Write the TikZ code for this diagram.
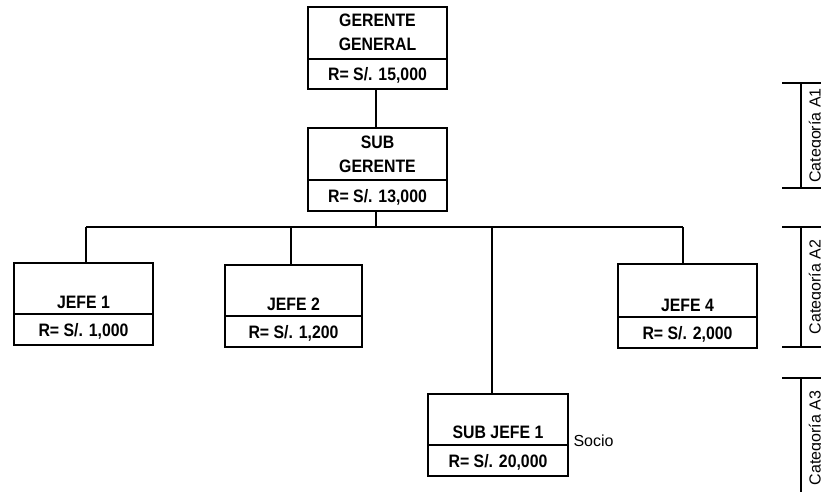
\documentclass[tikz,border=0pt]{standalone}
\usepackage{fontspec}
\setmainfont{Liberation Sans}
\newfontfamily\condfont{Liberation Sans}[FakeStretch=0.88]
\begin{document}
\begin{tikzpicture}[x=1pt,y=-1pt,
  line width=1.1pt,
  box/.style={draw, rectangle, inner sep=0pt, line width=1.1pt},
  lbl/.style={font=\condfont\fontsize{18}{21}\selectfont\bfseries, anchor=base, inner sep=0pt},
  cat/.style={font=\fontsize{16}{19}\selectfont, anchor=base, rotate=90, inner sep=0pt},
  plain/.style={font=\fontsize{16}{19}\selectfont, anchor=base west, inner sep=0pt},
  conn/.style={line width=1.1pt}]
\useasboundingbox (0,0) rectangle (821,492);
\clip (0,0) rectangle (821,492);

% boxes
\node[box, minimum width=139pt, minimum height=82pt] (gg) at (377.5,48) {};
\node[box, minimum width=139pt, minimum height=83pt] (sg) at (377.5,169.5) {};
\node[box, minimum width=139pt, minimum height=82pt] (j1) at (83.5,304) {};
\node[box, minimum width=137pt, minimum height=82pt] (j2) at (293.5,306) {};
\node[box, minimum width=139pt, minimum height=84pt] (j4) at (687.5,306) {};
\node[box, minimum width=140pt, minimum height=82pt] (sj) at (498,435) {};

% dividers
\draw (gg.west |- 0,59) -- (gg.east |- 0,59);
\draw (sg.west |- 0,180) -- (sg.east |- 0,180);
\draw (j1.west |- 0,314) -- (j1.east |- 0,314);
\draw (j2.west |- 0,316) -- (j2.east |- 0,316);
\draw (j4.west |- 0,317) -- (j4.east |- 0,317);
\draw (sj.west |- 0,445) -- (sj.east |- 0,445);

% texts
\node[lbl] (gg1) at (377.5,27) {GERENTE};
\node[lbl] (gg2) at (377.5,51) {GENERAL};
\node[lbl] (gg3) at (377.5,81) {R= S/. 15,000};
\node[lbl] (sg1) at (377.5,148) {SUB};
\node[lbl] (sg2) at (377.5,172) {GERENTE};
\node[lbl] (sg3) at (377.5,202) {R= S/. 13,000};
\node[lbl] (j1a) at (83.5,308) {JEFE 1};
\node[lbl] (j1b) at (83.5,336) {R= S/. 1,000};
\node[lbl] (j2a) at (293.5,310) {JEFE 2};
\node[lbl] (j2b) at (293.5,338) {R= S/. 1,200};
\node[lbl] (j4a) at (687.5,311) {JEFE 4};
\node[lbl] (j4b) at (687.5,339) {R= S/. 2,000};
\node[lbl] (sja) at (498,438) {SUB JEFE 1};
\node[lbl] (sjb) at (498,467) {R= S/. 20,000};
\node[plain] (socio) at (573,446) {Socio};

% connectors
\coordinate (bus) at (376,227);
\coordinate (b1) at (86,227);
\coordinate (b2) at (291,227);
\coordinate (b3) at (492,227);
\coordinate (b4) at (683,227);
\draw[conn] (gg.south -| bus) -- (sg.north -| bus);
\draw[conn] (sg.south -| bus) -- (bus);
\draw[conn] (b1) -- (b4);
\draw[conn] (b1) -- (b1 |- j1.north);
\draw[conn] (b2) -- (b2 |- j2.north);
\draw[conn] (b3) -- (b3 |- sj.north);
\draw[conn] (b4) -- (b4 |- j4.north);

% categories
\draw[conn] (782,83) -- (821,83);
\draw[conn] (801,83) -- (801,188);
\draw[conn] (782,188) -- (821,188);
\node[cat] (c1) at (820.5,135.5) {Categoría A1};
\draw[conn] (782,227) -- (821,227);
\draw[conn] (801,227) -- (801,347);
\draw[conn] (782,347) -- (821,347);
\node[cat] (c2) at (820.5,287) {Categoría A2};
\draw[conn] (782,378) -- (821,378);
\draw[conn] (801,378) -- (801,492);
\node[cat] (c3) at (820.5,438) {Categoría A3};
\end{tikzpicture}
\end{document}
